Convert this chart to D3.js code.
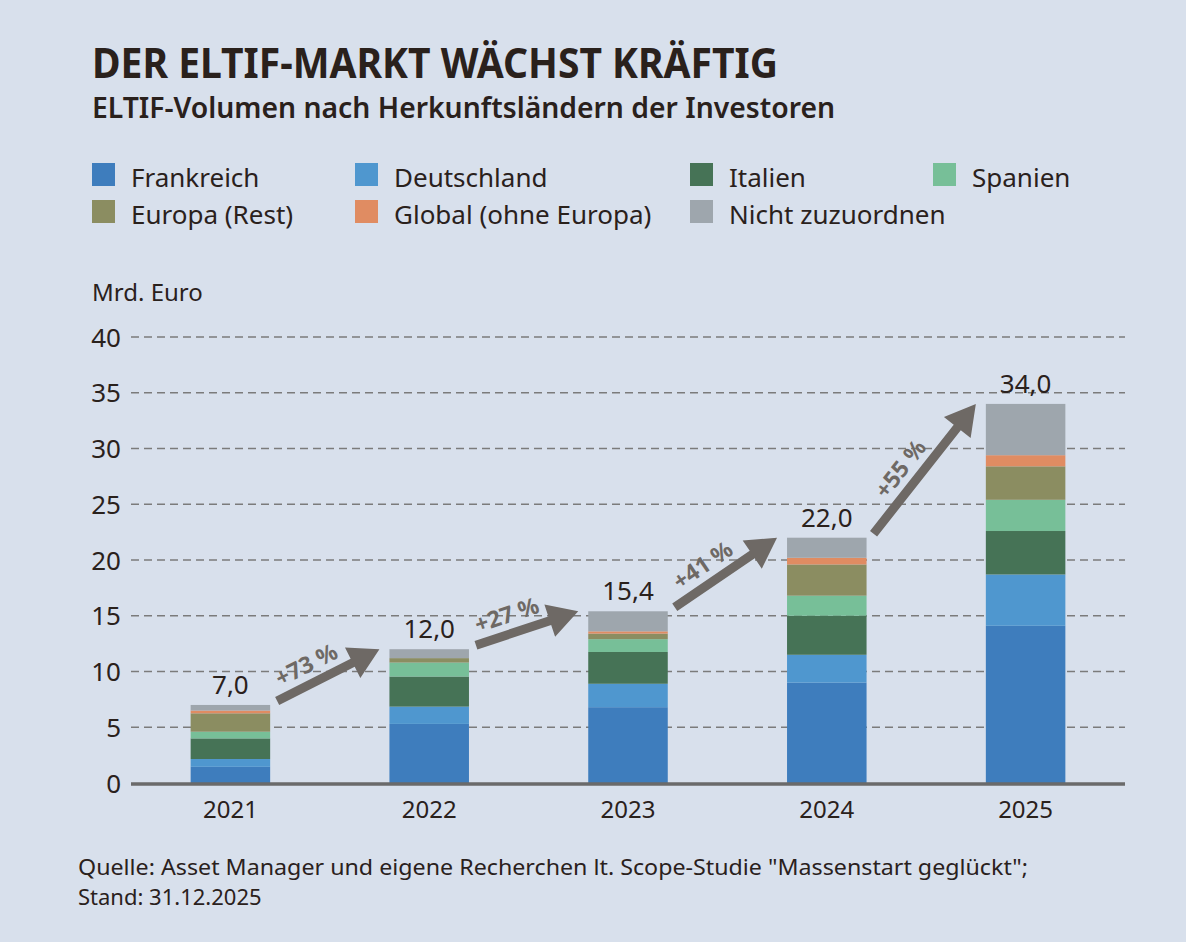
<!DOCTYPE html>
<html>
<head>
<meta charset="utf-8">
<script src="https://cdn.jsdelivr.net/npm/d3@7"></script>
<style>
  body { margin: 0; background: #d8e0ec; }
  svg text { font-family: "Noto Sans", sans-serif; fill: #2a211c; }
</style>
</head>
<body>
<div id="vis-container"></div>
<script>
// Daten in Mrd. Euro, je Jahr und Herkunftsland (von unten nach oben gestapelt)
years = ["2021", "2022", "2023", "2024", "2025"]
seriesNames = ["Frankreich", "Deutschland", "Italien", "Spanien", "Europa (Rest)", "Global (ohne Europa)", "Nicht zuzuordnen"]
frankreich = [1.45, 5.3, 6.8, 9.0, 14.1]
deutschland = [0.7, 1.55, 2.1, 2.5, 4.6]
italien = [1.85, 2.7, 2.85, 3.5, 3.9]
spanien = [0.6, 1.25, 1.15, 1.8, 2.8]
europaRest = [1.65, 0.4, 0.5, 2.8, 3.0]
global = [0.25, 0.0, 0.2, 0.6, 1.0]
nichtZuzuordnen = [0.5, 0.8, 1.8, 1.8, 4.6]
totals = [7.0, 12.0, 15.4, 22.0, 34.0]
growthLabels = ["+73 %", "+27 %", "+41 %", "+55 %"]
yTicks = [0, 5, 10, 15, 20, 25, 30, 35, 40]

colors = ["#3e7dbd", "#4f97cf", "#467356", "#77bf98", "#8b8d61", "#e08c62", "#9ea6ad"]
arrowColor = "#6e6965"

chart = {
  "width": 1186, "height": 942,
  "left": 131, "right": 1125, "top": 337, "bottom": 783
}

let values = [frankreich, deutschland, italien, spanien, europaRest, global, nichtZuzuordnen]
let rows = years.map((y, i) => {
  let row = {year: y}
  seriesNames.forEach((s, j) => row[s] = values[j][i])
  return row
})
let stacked = d3.stack().keys(seriesNames)(rows)

let x = d3.scaleBand().domain(years).range([chart.left, chart.right]).paddingInner(0.6).paddingOuter(0.3)
let y = d3.scaleLinear().domain([0, 40]).range([chart.bottom, chart.top])

svg = d3.select("#vis-container").append("svg").attr("width", chart.width).attr("height", chart.height)
svg.append("rect").attr("width", chart.width).attr("height", chart.height).attr("fill", "#d8e0ec")

// Titel
svg.append("text").attr("x", 92).attr("y", 78).text("DER ELTIF-MARKT WÄCHST KRÄFTIG")
  .style("font-size", "41px").style("font-weight", 700).attr("textLength", 686).attr("lengthAdjust", "spacingAndGlyphs")
svg.append("text").attr("x", 92).attr("y", 118).text("ELTIF-Volumen nach Herkunftsländern der Investoren")
  .style("font-size", "28px").style("font-weight", 600).attr("textLength", 743).attr("lengthAdjust", "spacingAndGlyphs")

// Legende
let legendPos = [[92, 0], [355, 0], [690, 0], [933, 0], [92, 1], [355, 1], [690, 1]]
let legend = svg.append("g").selectAll("g").data(seriesNames).enter().append("g")
  .attr("transform", (d, i) => "translate(" + legendPos[i][0] + "," + (163 + legendPos[i][1] * 37) + ")")
legend.append("rect").attr("width", 23).attr("height", 23).attr("fill", (d, i) => colors[i])
legend.append("text").attr("x", 39).attr("y", 24).text(d => d).style("font-size", "26px")

// Achsen
svg.append("text").attr("x", 92).attr("y", 301).text("Mrd. Euro").style("font-size", "24px")

svg.append("g").selectAll("line").data(yTicks.filter(d => d > 0)).enter().append("line")
  .attr("x1", chart.left).attr("x2", chart.right)
  .attr("y1", d => y(d)).attr("y2", d => y(d))
  .attr("stroke", "#7b7b7b").attr("stroke-width", 1.5).attr("stroke-dasharray", "8,5")

let yAxis = svg.append("g").attr("transform", "translate(" + (chart.left - 10) + ",0)")
  .call(d3.axisLeft(y).tickValues(yTicks).tickSize(0).tickPadding(0))
yAxis.select(".domain").remove()
yAxis.selectAll("text").style("font-size", "26px").attr("dy", "0.35em").attr("fill", "#2a211c")

// Balken
svg.append("g").selectAll("g").data(stacked).enter().append("g")
  .attr("fill", (d, i) => colors[i])
  .selectAll("rect").data(d => d).enter().append("rect")
  .attr("x", d => x(d.data.year))
  .attr("width", x.bandwidth())
  .attr("y", d => y(d[1]))
  .attr("height", d => y(d[0]) - y(d[1]))

svg.append("line").attr("x1", chart.left).attr("x2", chart.right)
  .attr("y1", y(0) + 1).attr("y2", y(0) + 1).attr("stroke", "#6a6a6a").attr("stroke-width", 3.5)

let xAxis = svg.append("g").attr("transform", "translate(0," + (y(0) + 3) + ")")
  .call(d3.axisBottom(x).tickSize(0).tickPadding(0))
xAxis.select(".domain").remove()
xAxis.selectAll("text").style("font-size", "24px").attr("dy", "1.35em").attr("fill", "#2a211c")

// Summen
svg.append("g").selectAll("text").data(totals).enter().append("text")
  .attr("x", (d, i) => x(years[i]) + x.bandwidth() / 2)
  .attr("y", d => y(d) - 11)
  .attr("text-anchor", "middle")
  .text(d => d3.format(".1f")(d).replace(".", ","))
  .style("font-size", "26px")

// Wachstumspfeile
growthLabels.forEach(function(label, i){
  let x0 = x(years[i]) + x.bandwidth() + 7, y0 = y(totals[i]) - 4
  let x1 = x(years[i + 1]) - 10, y1 = y(totals[i + 1])
  let len = Math.hypot(x1 - x0, y1 - y0)
  let angle = Math.atan2(y1 - y0, x1 - x0) * 180 / Math.PI
  let head = 30, half = 17, shaft = 4.5
  let g = svg.append("g").attr("transform", "translate(" + x0 + "," + y0 + ") rotate(" + angle + ")")
  g.append("path")
    .attr("d", "M0," + (-shaft) + "L" + (len - head) + "," + (-shaft) + "L" + (len - head) + "," + (-half) +
      "L" + len + ",0L" + (len - head) + "," + half + "L" + (len - head) + "," + shaft + "L0," + shaft + "Z")
    .attr("fill", arrowColor)
  g.append("text").attr("x", (len - head) / 2).attr("y", -11)
    .attr("text-anchor", "middle").text(label)
    .style("font-size", "23px").style("font-weight", 700).style("fill", arrowColor)
})

// Quelle
svg.append("text").attr("x", 78).attr("y", 875)
  .text("Quelle: Asset Manager und eigene Recherchen lt. Scope-Studie \"Massenstart geglückt\";")
  .style("font-size", "22px").attr("textLength", 950).attr("lengthAdjust", "spacingAndGlyphs")
svg.append("text").attr("x", 78).attr("y", 905).text("Stand: 31.12.2025").style("font-size", "22px")
</script>
</body>
</html>
